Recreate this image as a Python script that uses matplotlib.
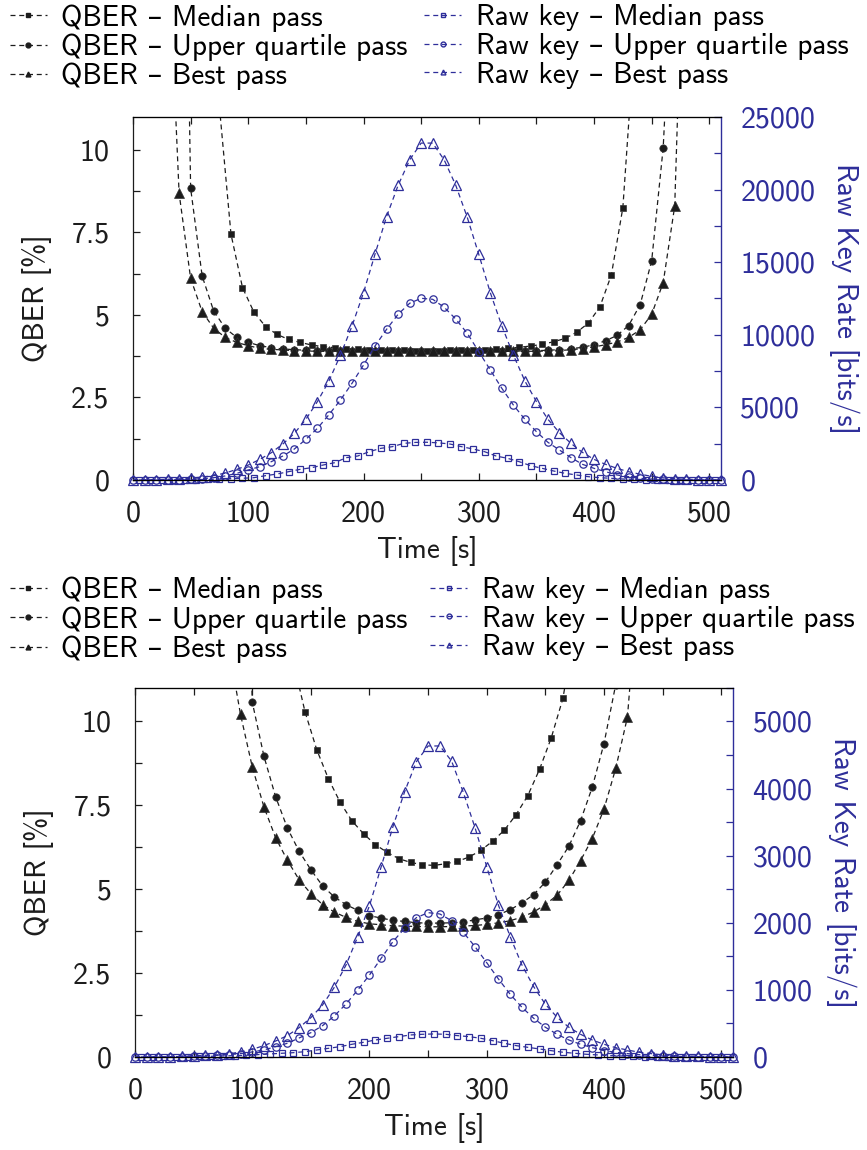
import numpy as np
import matplotlib
matplotlib.use("Agg")
import matplotlib.pyplot as plt
from matplotlib.ticker import MultipleLocator
from matplotlib.lines import Line2D

plt.rcParams["font.family"] = ["cmss10", "DejaVu Sans"]
plt.rcParams["axes.unicode_minus"] = False

BLACK = "#1c1c1c"
BLUE = "#2e2e9a"

# time grids [s]
T_ALL = np.arange(0, 520, 10)          # 0 .. 510
T_MED = np.arange(5, 515, 10)          # 5 .. 505

# ---------------- top panel ----------------
TOP_QBER_MED_T = np.arange(75, 445, 10)
TOP_QBER_MED = [11.3, 7.45, 5.83, 5.08, 4.65, 4.41, 4.26, 4.17, 4.09, 4.04, 4.01, 3.98,
                3.96, 3.95, 3.94, 3.93, 3.93, 3.92, 3.92, 3.92, 3.93, 3.93, 3.94, 3.95,
                3.96, 3.99, 4.02, 4.06, 4.11, 4.19, 4.29, 4.48, 4.75, 5.24, 6.21, 8.25, 13.3]
TOP_QBER_UQ_T = np.arange(40, 480, 10)
TOP_QBER_UQ = [30.0, 8.84, 6.18, 5.12, 4.60, 4.32, 4.17, 4.07, 4.01, 3.97, 3.95, 3.93,
               3.92, 3.91, 3.90, 3.90, 3.90, 3.90, 3.90, 3.90, 3.90, 3.90, 3.90, 3.90,
               3.90, 3.90, 3.90, 3.90, 3.90, 3.90, 3.91, 3.92, 3.93, 3.95, 3.98, 4.02,
               4.10, 4.22, 4.38, 4.68, 5.31, 6.64, 10.07, 17.0]
TOP_QBER_BEST_T = np.arange(30, 490, 10)
TOP_QBER_BEST = [16.7, 8.69, 6.11, 5.10, 4.60, 4.32, 4.17, 4.07, 3.99, 3.96, 3.94, 3.92,
                 3.91, 3.90, 3.90, 3.90, 3.90, 3.90, 3.90, 3.90, 3.90, 3.90, 3.90, 3.90,
                 3.90, 3.90, 3.90, 3.90, 3.90, 3.90, 3.90, 3.90, 3.90, 3.91, 3.92, 3.95,
                 3.98, 4.03, 4.10, 4.18, 4.32, 4.55, 5.02, 5.98, 8.30, 19.5]

TOP_RAW_MED = [0, 0, 5, 10, 15, 25, 40, 60, 90, 120, 161, 299, 413, 574, 735, 850, 1033,
               1194, 1538, 1653, 1951, 2181, 2296, 2525, 2590, 2600, 2560, 2479, 2296,
               2135, 1951, 1653, 1492, 1263, 988, 803, 620, 459, 344, 230, 161, 115, 70,
               40, 20, 10, 5, 5, 0, 0, 0]
TOP_RAW_UQ = [0, 0, 5, 10, 25, 50, 90, 160, 280, 460, 689, 918, 1263, 1653, 2135, 2801,
              3558, 4499, 5510, 6657, 7920, 9229, 10376, 11410, 12169, 12513, 12444,
              11893, 11088, 10101, 8838, 7576, 6314, 5165, 4179, 3329, 2594, 2066, 1538,
              1079, 803, 574, 344, 230, 115, 69, 40, 20, 10, 5, 0, 0]
TOP_RAW_BEST = [0, 10, 30, 50, 80, 130, 200, 300, 480, 730, 1030, 1420, 1880, 2480, 3210,
                4180, 5400, 6820, 8610, 10600, 12900, 15560, 18140, 20290, 22040, 23200,
                23200, 22040, 20300, 18090, 15540, 12900, 10610, 8610, 6820, 5400, 4180,
                3260, 2520, 1900, 1420, 1080, 800, 570, 400, 250, 150, 90, 50, 30, 10, 0]

# ---------------- bottom panel ----------------
BOT_QBER_MED_T = np.arange(135, 385, 10)
BOT_QBER_MED = [11.8, 10.29, 9.16, 8.29, 7.59, 7.04, 6.65, 6.33, 6.10, 5.91, 5.80, 5.73,
                5.71, 5.76, 5.83, 5.96, 6.16, 6.43, 6.76, 7.22, 7.79, 8.57, 9.51, 10.69, 12.8]
BOT_QBER_UQ_T = np.arange(90, 420, 10)
BOT_QBER_UQ = [25.0, 10.58, 8.96, 7.75, 6.82, 6.13, 5.58, 5.10, 4.77, 4.54, 4.37, 4.21,
               4.14, 4.07, 4.04, 4.00, 3.99, 3.99, 4.00, 4.02, 4.09, 4.14, 4.24, 4.39,
               4.59, 4.84, 5.21, 5.73, 6.28, 7.04, 8.04, 9.34, 11.1]
BOT_QBER_BEST_T = np.arange(80, 440, 10)
BOT_QBER_BEST = [12.2, 10.21, 8.65, 7.45, 6.53, 5.86, 5.28, 4.87, 4.54, 4.32, 4.16, 4.04,
                 3.97, 3.94, 3.91, 3.90, 3.89, 3.88, 3.88, 3.89, 3.90, 3.92, 3.95, 4.00,
                 4.06, 4.17, 4.32, 4.54, 4.82, 5.26, 5.85, 6.51, 7.39, 8.60, 10.13, 14.5]

BOT_RAW_MED = [0, 0, 0, 5, 5, 10, 10, 15, 20, 25, 35, 45, 55, 64, 79, 104, 129, 154, 189,
               219, 253, 278, 303, 328, 338, 343, 338, 318, 303, 278, 243, 204, 169, 144,
               119, 94, 70, 55, 40, 30, 20, 15, 10, 5, 5, 0, 0, 0, 0, 0, 0]
BOT_RAW_UQ = [0, 0, 0, 5, 5, 10, 15, 25, 35, 50, 75, 105, 154, 204, 283, 362, 467, 611,
              790, 998, 1222, 1471, 1719, 1918, 2076, 2151, 2131, 2031, 1858, 1644, 1405,
              1162, 934, 741, 577, 443, 338, 253, 189, 139, 94, 70, 50, 35, 25, 15, 10, 5,
              5, 0, 0, 0]
BOT_RAW_BEST = [0, 0, 0, 0, 15, 15, 25, 30, 45, 75, 114, 169, 238, 318, 437, 586, 775,
                1038, 1371, 1793, 2255, 2836, 3433, 3954, 4401, 4635, 4635, 4411, 3945,
                3417, 2836, 2261, 1793, 1371, 1048, 785, 592, 443, 338, 253, 189, 139,
                104, 70, 50, 30, 20, 15, 10, 5, 0, 0]

LABELS_QBER = ["QBER – Median pass", "QBER – Upper quartile pass", "QBER – Best pass"]
LABELS_RAW = ["Raw key – Median pass", "Raw key – Upper quartile pass", "Raw key – Best pass"]
MARKERS = ["s", "o", "^"]
MSIZES = [5.0, 5.3, 6.8]

FS = 21
TICK_FS = 21.5
LINE_KW = dict(linestyle="--", linewidth=0.9, dashes=(4, 3))


def add_legend(handles, x, y):
    fig.legend(handles=handles, loc="upper left", bbox_to_anchor=(x, y),
               frameon=False, fontsize=FS, handlelength=1.27, handletextpad=0.5,
               labelspacing=0.06, borderaxespad=0.0, borderpad=0.1)


def draw_panel(rect, qber, raw, raw_max, raw_major, raw_minor, legend_y, legend_x2):
    ax = fig.add_axes(rect)
    ax2 = ax.twinx()

    for (t, v), m, ms in zip(qber, MARKERS, MSIZES):
        ax.plot(t, v, color=BLACK, marker=m, markersize=ms, markerfacecolor=BLACK,
                markeredgecolor="#333333", markeredgewidth=0.5, **LINE_KW)
    for (t, v), m, ms in zip(raw, MARKERS, MSIZES):
        ax2.plot(t, v, color=BLUE, marker=m, markersize=ms, markerfacecolor="none",
                 markeredgecolor=BLUE, markeredgewidth=0.9, clip_on=False, **LINE_KW)

    ax.set_xlim(0, 510)
    ax.set_ylim(0, 11)
    ax2.set_ylim(0, raw_max)

    ax.xaxis.set_major_locator(MultipleLocator(100))
    ax.xaxis.set_minor_locator(MultipleLocator(50))
    ax.set_yticks([0, 2.5, 5, 7.5, 10], ["0", "2.5", "5", "7.5", "10"])
    ax.yaxis.set_minor_locator(MultipleLocator(1.25))
    ax2.yaxis.set_major_locator(MultipleLocator(raw_major))
    ax2.yaxis.set_minor_locator(MultipleLocator(raw_minor))

    ax.tick_params(axis="both", which="both", direction="in", length=5, width=0.9,
                   colors=BLACK, labelsize=TICK_FS, top=True)
    ax.tick_params(axis="x", pad=15)
    ax.tick_params(axis="y", which="both", right=False, pad=17)
    ax2.tick_params(axis="y", which="both", direction="in", length=5, width=0.9,
                    colors=BLUE, labelsize=TICK_FS, pad=14)

    for s in ["left", "top", "bottom"]:
        ax.spines[s].set_color(BLACK)
        ax.spines[s].set_linewidth(0.9)
    ax2.spines["right"].set_color(BLUE)
    ax2.spines["right"].set_linewidth(1.0)
    ax2.spines["left"].set_visible(False)
    ax.spines["right"].set_visible(False)

    ax.set_xlabel("Time [s]", fontsize=FS, color=BLACK, labelpad=6)
    ax.set_ylabel("QBER [%]", fontsize=FS, color=BLACK, labelpad=14)
    ax2.set_ylabel("Raw Key Rate [bits/s]", fontsize=FS, color=BLUE, rotation=-90,
                   labelpad=32)

    qh = [Line2D([], [], color=BLACK, marker=m, markersize=3.5, markerfacecolor=BLACK,
                 label=lab, **LINE_KW) for lab, m in zip(LABELS_QBER, MARKERS)]
    rh = [Line2D([], [], color=BLUE, marker=m, markersize=3.5, markerfacecolor="none",
                 markeredgecolor=BLUE, label=lab, **LINE_KW)
          for lab, m in zip(LABELS_RAW, MARKERS)]
    add_legend(qh, 0.008, legend_y)
    add_legend(rh, legend_x2, legend_y)
    return ax, ax2


fig = plt.figure(figsize=(8.67, 11.5), dpi=100)

draw_panel([0.1534, 0.5826, 0.678, 0.3157],
           [(TOP_QBER_MED_T, TOP_QBER_MED), (TOP_QBER_UQ_T, TOP_QBER_UQ),
            (TOP_QBER_BEST_T, TOP_QBER_BEST)],
           [(T_MED, TOP_RAW_MED), (T_ALL, TOP_RAW_UQ), (T_ALL, TOP_RAW_BEST)],
           25000, 5000, 2500, 0.999, 0.486)

draw_panel([0.1557, 0.0809, 0.6897, 0.3209],
           [(BOT_QBER_MED_T, BOT_QBER_MED), (BOT_QBER_UQ_T, BOT_QBER_UQ),
            (BOT_QBER_BEST_T, BOT_QBER_BEST)],
           [(T_MED, BOT_RAW_MED), (T_ALL, BOT_RAW_UQ), (T_ALL, BOT_RAW_BEST)],
           5500, 1000, 500, 0.501, 0.493)

fig.savefig("out.png", dpi=100)
